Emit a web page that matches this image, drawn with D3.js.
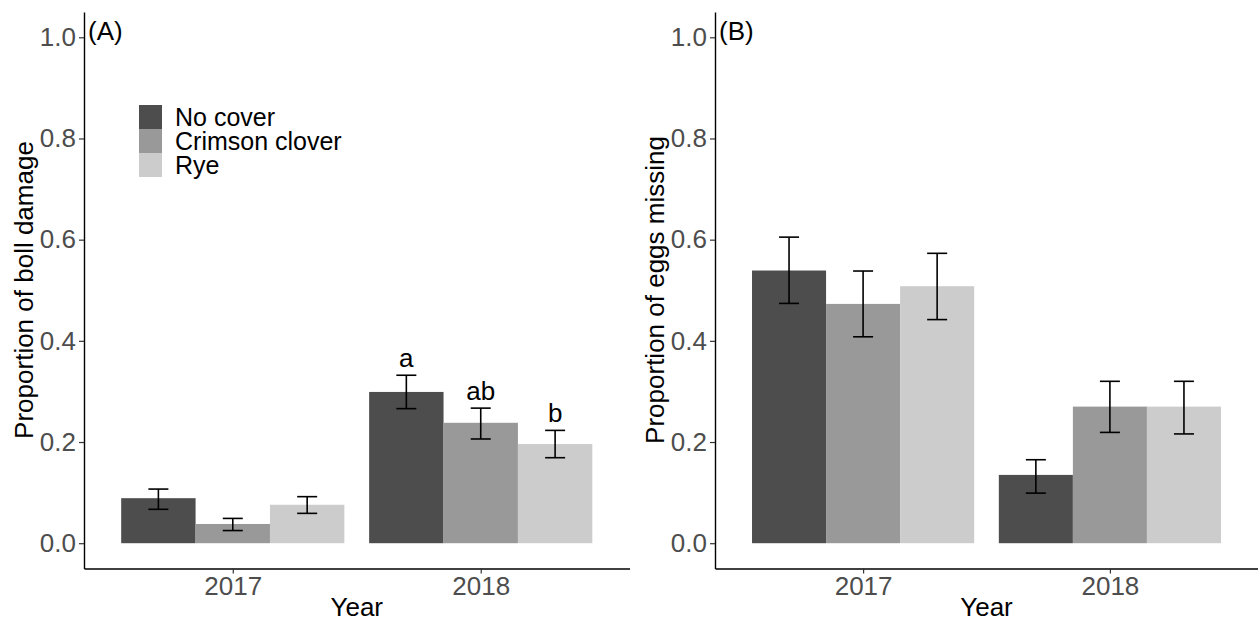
<!DOCTYPE html>
<html lang="en">
<head>
<meta charset="UTF-8">
<title>Cover crops</title>
<script src="https://cdn.jsdelivr.net/npm/d3@7/dist/d3.min.js"></script>
<style>
  body { margin: 0; background: #fff; }
  text { font-family: "Liberation Sans", Arial, sans-serif; }
</style>
</head>
<body>
<script>
  // data, [year][cover]
  const years = ["2017", "2018"]
  const covers = ["No cover", "Crimson clover", "Rye"]
  const fills = ["#4d4d4d", "#999999", "#cccccc"]
  const yTicks = [0, 0.2, 0.4, 0.6, 0.8, 1.0]

  const bollMean  = [[0.089, 0.038, 0.076], [0.299, 0.238, 0.196]]
  const bollLower = [[0.067, 0.025, 0.059], [0.266, 0.206, 0.169]]
  const bollUpper = [[0.107, 0.049, 0.092], [0.332, 0.267, 0.223]]
  const bollLetters = [["", "", ""], ["a", "ab", "b"]]

  const eggMean  = [[0.539, 0.473, 0.508], [0.135, 0.270, 0.270]]
  const eggLower = [[0.474, 0.408, 0.442], [0.099, 0.219, 0.216]]
  const eggUpper = [[0.605, 0.538, 0.573], [0.165, 0.320, 0.320]]
  const eggLetters = [["", "", ""], ["", "", ""]]

  const W = 1258, H = 623
  const svg = d3.select("body").append("svg")
    .attr("width", W).attr("height", H)

  const y = d3.scaleLinear().domain([-0.05, 1.05]).range([568.5, 12])

  function panel(opts) {
    const g = svg.append("g")
    const x0 = d3.scalePoint().domain(years).range([opts.left, opts.right]).padding(0.6)
    const step = x0.step()
    const x1 = d3.scaleBand().domain(covers).range([-0.45 * step, 0.45 * step])

    const rows = []
    years.forEach((yr, i) => covers.forEach((c, j) => rows.push({
      year: yr, cover: c, fill: fills[j],
      mean: opts.mean[i][j], lo: opts.lower[i][j], hi: opts.upper[i][j], letter: opts.letters[i][j]
    })))
    const cx = d => x0(d.year) + x1(d.cover) + x1.bandwidth() / 2

    g.selectAll(".bar").data(rows).enter().append("rect")
      .attr("x", d => x0(d.year) + x1(d.cover))
      .attr("width", x1.bandwidth())
      .attr("y", d => y(d.mean))
      .attr("height", d => y(0) - y(d.mean))
      .attr("fill", d => d.fill)

    const eb = g.selectAll(".err").data(rows).enter().append("g")
      .attr("stroke", "#000").attr("stroke-width", 1.6).attr("fill", "none")
    eb.append("line").attr("x1", cx).attr("x2", cx).attr("y1", d => y(d.lo)).attr("y2", d => y(d.hi))
    eb.append("line").attr("x1", d => cx(d) - 10).attr("x2", d => cx(d) + 10).attr("y1", d => y(d.lo)).attr("y2", d => y(d.lo))
    eb.append("line").attr("x1", d => cx(d) - 10).attr("x2", d => cx(d) + 10).attr("y1", d => y(d.hi)).attr("y2", d => y(d.hi))

    g.selectAll(".lab").data(rows.filter(d => d.letter)).enter().append("text")
      .attr("x", cx).attr("y", d => y(d.hi) - 8)
      .attr("text-anchor", "middle").attr("font-size", 26).attr("fill", "#000")
      .text(d => d.letter)

    const ya = g.append("g").attr("transform", "translate(" + opts.left + ",0)")
      .call(d3.axisLeft(y).tickValues(yTicks).tickFormat(d3.format(".1f")).tickSize(5).tickSizeOuter(0).tickPadding(3))
    const xa = g.append("g").attr("transform", "translate(0," + y.range()[0] + ")")
      .call(d3.axisBottom(x0).tickSize(5).tickSizeOuter(0).tickPadding(3))
    ;[ya, xa].forEach(a => {
      a.select(".domain").attr("stroke", "#000").attr("stroke-width", 1.4)
      a.selectAll(".tick line").attr("stroke", "#333").attr("stroke-width", 1.2)
      a.selectAll(".tick text").attr("font-size", 26).attr("fill", "#4d4d4d")
        .style("font-family", "'Liberation Sans', Arial, sans-serif")
    })

    g.append("text").attr("x", (opts.left + opts.right) / 2).attr("y", 616)
      .attr("text-anchor", "middle").attr("font-size", 26).attr("fill", "#000").text("Year")
    g.append("text")
      .attr("transform", "translate(" + (opts.left - 51) + ",290) rotate(-90)")
      .attr("text-anchor", "middle").attr("font-size", 26).attr("fill", "#000").text(opts.ytitle)
    g.append("text").attr("x", opts.left + 4).attr("y", 40)
      .attr("font-size", 26).attr("fill", "#000").text(opts.tag)
  }

  panel({ left: 84, right: 629.5, mean: bollMean, lower: bollLower, upper: bollUpper,
    letters: bollLetters, ytitle: "Proportion of boll damage", tag: "(A)" })
  panel({ left: 715, right: 1258, mean: eggMean, lower: eggLower, upper: eggUpper,
    letters: eggLetters, ytitle: "Proportion of eggs missing", tag: "(B)" })

  // legend
  const leg = svg.append("g").attr("transform", "translate(139,105)")
  const li = leg.selectAll("g").data(covers).enter().append("g")
    .attr("transform", (d, i) => "translate(0," + i * 24 + ")")
  li.append("rect").attr("width", 23).attr("height", 24).attr("fill", (d, i) => fills[i])
  li.append("text").attr("x", 36).attr("y", 21).attr("font-size", 25).attr("fill", "#000").text(d => d)
</script>
</body>
</html>
